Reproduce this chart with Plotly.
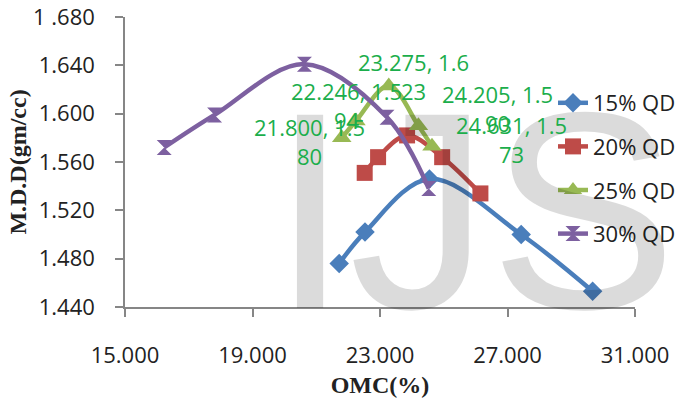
import plotly.graph_objects as go

# Optimum moisture content (%) vs maximum dry density (gm/cc) for each quarry dust mix
omc_15 = [21.72, 22.53, 24.55, 27.43, 29.67]
mdd_15 = [1.476, 1.502, 1.546, 1.500, 1.453]

omc_20 = [22.52, 22.94, 23.85, 24.95, 26.15]
mdd_20 = [1.551, 1.564, 1.582, 1.564, 1.534]

omc_25 = [21.800, 22.246, 23.275, 24.205, 24.631]
mdd_25 = [1.580, 1.594, 1.623, 1.590, 1.573]

omc_30 = [16.23, 17.81, 20.63, 23.22, 24.53]
mdd_30 = [1.572, 1.599, 1.641, 1.597, 1.538]

series_names = ["15% QD", "20% QD", "25% QD", "30% QD"]
x_ticks = [15, 19, 23, 27, 31]
y_ticks = [1.44, 1.48, 1.52, 1.56, 1.60, 1.64, 1.68]
y_tick_text = ["1.440", "1.480", "1.520", "1.560", "1.600", "1.640", "1 .680"]

# label offsets (px) for the 25% QD point labels
label_dx = [-32, -9, 25, 79, 80]
label_dy = [-4, 15, 9, 17, 7]

TXT = "Open Sans"
styles = [
    dict(color="#4A7EBB", symbol="diamond", size=15),
    dict(color="#BE4B48", symbol="square", size=16),
    dict(color="#98B954", symbol="triangle-up", size=17),
    dict(color="#7D60A0", symbol="hourglass", size=15),
]
xs = [omc_15, omc_20, omc_25, omc_30]
ys = [mdd_15, mdd_20, mdd_25, mdd_30]

fig = go.Figure()
for name, x, y, st in zip(series_names, xs, ys, styles):
    fig.add_trace(go.Scatter(
        x=x, y=y, name=name, mode="lines+markers", legendgroup=name,
        line=dict(color=st["color"], width=4.5, shape="spline", smoothing=1.0),
        marker=dict(color=st["color"], symbol=st["symbol"], size=st["size"],
                    line=dict(width=0)),
    ))

# plot area in pixels: left 125, right 635, top 17, bottom 307
annotations = [
    # watermark
    dict(text="IJS", x=(474 - 125) / 510, y=(307 - 211) / 290,
         xref="x domain", yref="y domain", xanchor="center", yanchor="middle",
         showarrow=False, font=dict(family="Liberation Sans", size=281,
                                     color="rgba(0,0,0,0.14)")),
]

for x, y, dx, dy in zip(omc_25, mdd_25, label_dx, label_dy):
    lbl = f"{x:.3f}, {y:.3f}"
    lbl = lbl[:-2] + "<br>" + lbl[-2:]
    annotations.append(dict(
        x=x, y=y, xref="x", yref="y", text=lbl, showarrow=False,
        xshift=dx, yshift=dy, xanchor="center", yanchor="middle",
        font=dict(family=TXT, size=22, color="#1BAE4B"),
    ))

fig.update_layout(
    width=680, height=403,
    margin=dict(l=125, r=45, t=17, b=96, autoexpand=False),
    paper_bgcolor="white", plot_bgcolor="white",
    font=dict(family=TXT, size=22, color="#222222"),
    showlegend=True,
    legend=dict(x=(553 - 125) / 510, y=(307 - 82) / 290, xanchor="left", yanchor="top",
                bgcolor="rgba(0,0,0,0)", font=dict(family=TXT, size=22, color="#222222"),
                tracegroupgap=12),
    annotations=annotations,
    xaxis=dict(
        range=[15, 31], tickvals=x_ticks, automargin=False,
        ticktext=[f"{v:.3f}" for v in x_ticks],
        showgrid=False, zeroline=False, showline=True, linecolor="#868686", linewidth=1.5,
        ticks="outside", ticklen=8, tickcolor="#868686", tickwidth=1.5,
        ticklabelstandoff=20,
        tickfont=dict(family=TXT, size=22, color="#222222"),
        title=dict(text="<b>OMC(%)</b>", standoff=8,
                   font=dict(family="Liberation Serif", size=24, color="#222222")),
    ),
    yaxis=dict(
        range=[1.44, 1.68], tickvals=y_ticks, ticktext=y_tick_text, automargin=False,
        showgrid=False, zeroline=False, showline=True, linecolor="#868686", linewidth=1.5,
        ticks="outside", ticklen=8, tickcolor="#868686", tickwidth=1.5,
        ticklabelstandoff=16,
        tickfont=dict(family=TXT, size=22, color="#222222"),
        title=dict(text="<b>M.D.D(gm/cc)</b>", standoff=0,
                   font=dict(family="Liberation Serif", size=24, color="#222222")),
    ),
)

fig.write_html("out.html")
